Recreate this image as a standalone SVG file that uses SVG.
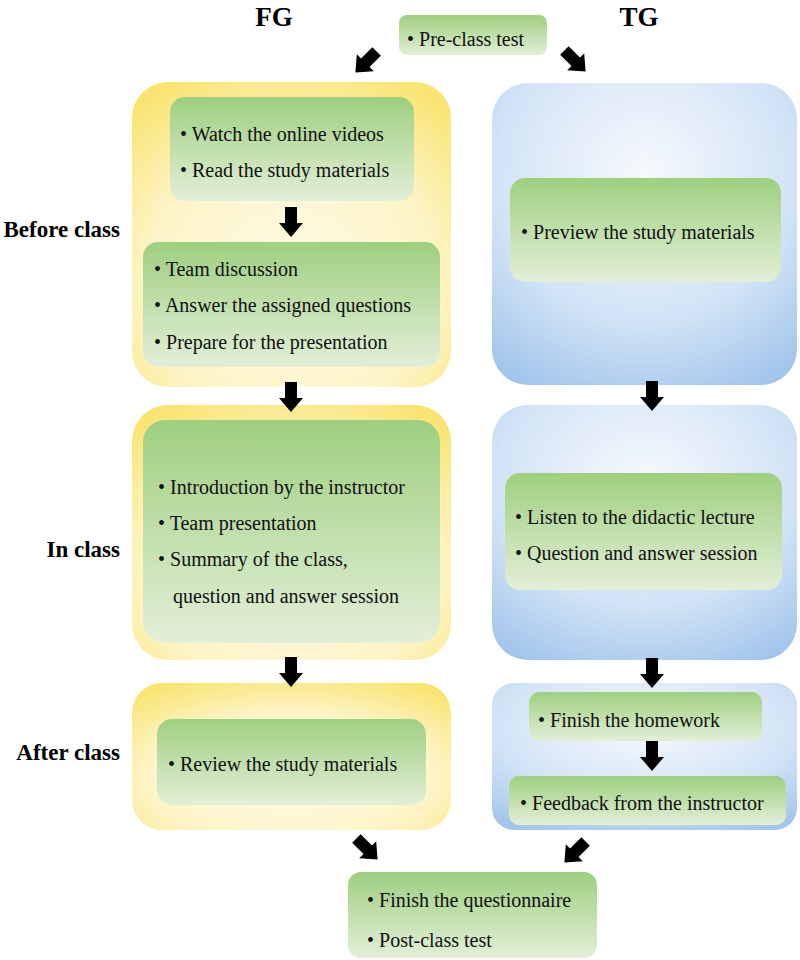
<svg xmlns="http://www.w3.org/2000/svg" width="800" height="960" viewBox="0 0 800 960">
<defs>
<linearGradient id="gGreen" x1="0" y1="0" x2="0" y2="1">
<stop offset="0" stop-color="#9ecf7f"/>
<stop offset="1" stop-color="#e3efd8"/>
</linearGradient>
<radialGradient id="gYellow" cx="0.5" cy="0.65" r="0.75">
<stop offset="0" stop-color="#fffbe8"/>
<stop offset="0.6" stop-color="#fdf4c6"/>
<stop offset="1" stop-color="#f9e470"/>
</radialGradient>
<radialGradient id="gBlue" cx="0.5" cy="0.3" r="0.8">
<stop offset="0" stop-color="#f6f9fd"/>
<stop offset="0.6" stop-color="#d3e4f6"/>
<stop offset="1" stop-color="#a2c5eb"/>
</radialGradient>
<path id="arr" d="M-6,-15 L6,-15 L6,1 L12,1 L0,15 L-12,1 L-6,1 Z" fill="#000"/>
<style>
.t{font-family:"Liberation Serif","Times New Roman",serif;font-size:20px;fill:#111;}
.h{font-family:"Liberation Serif","Times New Roman",serif;font-size:23px;font-weight:bold;fill:#000;}
.hh{font-family:"Liberation Serif","Times New Roman",serif;font-size:27px;font-weight:bold;fill:#000;}
.g{fill:url(#gGreen);}
.y{fill:url(#gYellow);}
.b{fill:url(#gBlue);}
</style>
</defs>
<rect width="800" height="960" fill="#fff"/>

<g id="labels">
<text class="hh" x="274" y="26" text-anchor="middle">FG</text>
<text class="hh" x="639" y="26" text-anchor="middle">TG</text>
<text class="h" x="120" y="237" text-anchor="end">Before class</text>
<text class="h" x="120" y="557" text-anchor="end">In class</text>
<text class="h" x="120" y="760" text-anchor="end">After class</text>
</g>

<g id="pre">
<rect class="g" x="399" y="15" width="148" height="40" rx="8"/>
<text class="t" x="407" y="46">• Pre-class test</text>
</g>

<g id="fg-before">
<rect class="y" x="132" y="82" width="319" height="305" rx="36"/>
<g id="fg-before-a">
<rect class="g" x="170" y="97" width="244" height="104" rx="15"/>
<text class="t" x="180" y="141">• Watch the online videos</text>
<text class="t" x="180" y="177">• Read the study materials</text>
</g>
<g id="fg-before-b">
<rect class="g" x="143" y="242" width="297" height="125" rx="15"/>
<text class="t" x="154" y="276">• Team discussion</text>
<text class="t" x="154" y="312">• Answer the assigned questions</text>
<text class="t" x="154" y="349">• Prepare for the presentation</text>
</g>
</g>

<g id="fg-in">
<rect class="y" x="132" y="405" width="319" height="255" rx="36"/>
<rect class="g" x="143" y="420" width="297" height="223" rx="22"/>
<text class="t" x="158" y="494">• Introduction by the instructor</text>
<text class="t" x="158" y="530">• Team presentation</text>
<text class="t" x="158" y="566">• Summary of the class,</text>
<text class="t" x="173" y="603">question and answer session</text>
</g>

<g id="fg-after">
<rect class="y" x="132" y="683" width="319" height="147" rx="30"/>
<rect class="g" x="157" y="719" width="269" height="86" rx="15"/>
<text class="t" x="168" y="771">• Review the study materials</text>
</g>

<g id="tg-before">
<rect class="b" x="492" y="83" width="305" height="302" rx="36"/>
<rect class="g" x="510" y="178" width="271" height="104" rx="15"/>
<text class="t" x="521" y="239">• Preview the study materials</text>
</g>

<g id="tg-in">
<rect class="b" x="492" y="405" width="305" height="255" rx="36"/>
<rect class="g" x="505" y="473" width="277" height="117" rx="15"/>
<text class="t" x="515" y="524">• Listen to the didactic lecture</text>
<text class="t" x="515" y="560">• Question and answer session</text>
</g>

<g id="tg-after">
<rect class="b" x="492" y="683" width="305" height="147" rx="22"/>
<g id="tg-after-a">
<rect class="g" x="529" y="692" width="233" height="49" rx="10"/>
<text class="t" x="538" y="727">• Finish the homework</text>
</g>
<g id="tg-after-b">
<rect class="g" x="509" y="776" width="277" height="49" rx="10"/>
<text class="t" x="520" y="810">• Feedback from the instructor</text>
</g>
</g>

<g id="post">
<rect class="g" x="348" y="872" width="249" height="86" rx="13"/>
<text class="t" x="367" y="907">• Finish the questionnaire</text>
<text class="t" x="367" y="947">• Post-class test</text>
</g>

<g id="connectors">
<use href="#arr" transform="translate(366,62) rotate(45)"/>
<use href="#arr" transform="translate(575,61) rotate(-45)"/>
<use href="#arr" transform="translate(291,222)"/>
<use href="#arr" transform="translate(291,397)"/>
<use href="#arr" transform="translate(291,672)"/>
<use href="#arr" transform="translate(652,396)"/>
<use href="#arr" transform="translate(652,673)"/>
<use href="#arr" transform="translate(652,756)"/>
<use href="#arr" transform="translate(367,849) rotate(-45)"/>
<use href="#arr" transform="translate(575,852) rotate(45)"/>
</g>
</svg>
